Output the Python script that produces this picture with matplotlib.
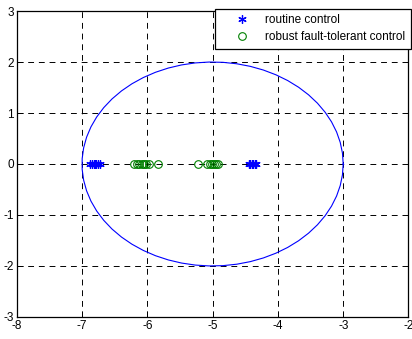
import numpy as np
import matplotlib.pyplot as plt

plt.rcParams['font.family'] = ['Liberation Sans', 'DejaVu Sans']
plt.rcParams['font.size'] = 8.5
plt.rcParams['axes.unicode_minus'] = False

# poles
routine_re = [-6.88, -6.85, -6.82, -6.80, -6.78, -6.75, -6.73,
              -4.45, -4.42, -4.40, -4.38, -4.35, -4.33]
routine_im = [0] * len(routine_re)
robust_re = [-6.20, -6.15, -6.12, -6.08, -6.05, -6.02, -5.98, -5.84,
             -5.22, -5.08, -5.04, -5.01, -4.98, -4.95, -4.92]
robust_im = [0] * len(robust_re)

# circle of radius 2 around -5
center = -5
radius = 2

fig = plt.figure(figsize=(4.12, 3.39), dpi=100)
ax = fig.add_axes([0.0405, 0.065, 0.951, 0.9025])

t = np.linspace(0, 2 * np.pi, 60)
ax.plot(center + radius * np.cos(t), radius * np.sin(t), color='blue', lw=0.8)
ax.plot(routine_re, routine_im, marker=(6, 2, 0), color='blue', ms=6, mew=0.9,
        ls='none', label='routine control')
ax.plot(robust_re, robust_im, 'o', mfc='none', mec='green', ms=5.5, mew=0.8,
        ls='none', label='robust fault-tolerant control')

ax.set_xlim(-8, -2)
ax.set_ylim(-3, 3)
ax.set_xticks([-8, -7, -6, -5, -4, -3, -2])
ax.set_yticks([-3, -2, -1, 0, 1, 2, 3])
ax.grid(True, color='black', ls=(0, (6, 5)), lw=0.7)
ax.tick_params(direction='in', length=4, width=0.7, pad=2)
for s in ax.spines.values():
    s.set_linewidth(0.9)

leg = ax.legend(loc='upper right', bbox_to_anchor=(1.006, 1.006),
                fancybox=False, edgecolor='black', framealpha=1,
                borderaxespad=0, handlelength=3.7, handletextpad=0.1,
                borderpad=0.45, labelspacing=0.4)
leg.get_frame().set_linewidth(0.9)

fig.savefig('out.png', dpi=100)
